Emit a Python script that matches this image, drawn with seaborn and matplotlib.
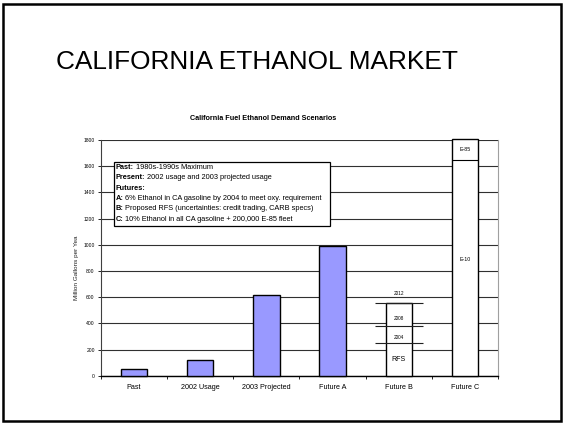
import matplotlib
matplotlib.use("Agg")
import matplotlib.pyplot as plt
import seaborn as sns
import pandas as pd
from matplotlib.patches import Rectangle


categories = ["Past", "2002 Usage", "2003 Projected", "Future A", "Future B", "Future C"]
demand = [50, 118, 615, 988, 553, 1810]

rfs_years = ["2004", "2008", "2012"]
rfs_levels = [247, 377, 553]
e10_level = 1645

legend_heads = ["Past:", "Present:", "Futures:", "A:", "B:", "C:"]
legend_texts = [
    " 1980s-1990s Maximum",
    " 2002 usage and 2003 projected usage",
    "",
    " 6% Ethanol in CA gasoline by 2004 to meet oxy. requirement",
    " Proposed RFS (uncertainties: credit trading, CARB specs)",
    " 10% Ethanol in all CA gasoline + 200,000 E-85 fleet",
]

sns.set_style("white")
plt.rcParams["font.family"] = ["Liberation Sans", "DejaVu Sans"]
plt.rcParams["text.color"] = "black"
plt.rcParams["xtick.color"] = "black"
plt.rcParams["ytick.color"] = "black"

W, H = 563, 424


def fx(x, y):
    # figure pixel -> figure fraction
    return x / W, 1 - y / H


fig = plt.figure(figsize=(W / 100, H / 100), dpi=100)
fig.patch.set_facecolor("white")

# slide frame
fig.patches.append(Rectangle((3 / W, 3 / H), 558 / W, 417 / H, transform=fig.transFigure,
                             fill=False, edgecolor="black", linewidth=1.8))

fig.text(*fx(257, 62), "CALIFORNIA ETHANOL MARKET", fontsize=18.9, ha="center", va="center")
fig.text(*fx(263, 118), "California Fuel Ethanol Demand Scenarios", fontsize=5.2,
         fontweight="bold", ha="center", va="center")

left, bottom = fx(101, 375.7)
ax = fig.add_axes([left, bottom, (498 - 101) / W, (375.7 - 140) / H])

df = pd.DataFrame({"scenario": categories, "demand": demand})
colors = {c: "#9999FF" for c in categories}
colors["Future B"] = "white"
colors["Future C"] = "white"

sns.barplot(data=df, x="scenario", y="demand", hue="scenario", palette=colors,
            legend=False, width=0.4, edgecolor="black", linewidth=1.0, saturation=1,
            ax=ax, zorder=3)
for p in ax.patches:
    p.set_clip_on(False)

ax.set_ylim(0, 1800)
ax.set_xlim(-0.5, len(categories) - 0.5)
ax.set_yticks(range(0, 1801, 200))
ax.yaxis.grid(True, color="#303030", linewidth=0.8, zorder=0)
ax.set_axisbelow(True)
ax.tick_params(axis="y", labelsize=3.6, length=2.5, width=0.6, pad=2, left=True)
ax.tick_params(axis="x", labelsize=5.2, length=0, pad=6)
ax.set_xticks([i - 0.5 for i in range(len(categories) + 1)], minor=True)
ax.tick_params(axis="x", which="minor", length=2.5, width=0.6, bottom=True, direction="out")
ax.set_xlabel("")
ax.set_ylabel("")
ax.spines["top"].set_visible(False)
ax.spines["left"].set_color("#404040")
ax.spines["bottom"].set_color("black")
ax.spines["bottom"].set_linewidth(1.0)
ax.spines["right"].set_color("#a0a0a0")

fig.text(*fx(77, 268), "Million Gallons per Yea", rotation=90, fontsize=4.6,
         ha="center", va="center", color="#222222")

# Future B: RFS steps
ib = categories.index("Future B")
for yr, lv, off in zip(rfs_years, rfs_levels, [2.5, 4, 5]):
    ax.hlines(lv, ib - 0.36, ib + 0.36, color="#202020", linewidth=0.8, zorder=4)
    ax.annotate(yr, (ib, lv), xytext=(0, off), textcoords="offset points",
                ha="center", va="bottom", fontsize=3.4, zorder=5)
ax.text(ib, rfs_levels[0] / 2, "RFS", ha="center", va="center", fontsize=5, zorder=5)

# Future C: E-10 / E-85 split
ic = categories.index("Future C")
ax.hlines(e10_level, ic - 0.2, ic + 0.2, color="black", linewidth=0.8, zorder=4)
ax.text(ic, e10_level * 0.54, "E-10", ha="center", va="center", fontsize=3.8, zorder=5)
ax.text(ic, (e10_level + demand[ic]) / 2, "E-85", ha="center", va="center", fontsize=3.8, zorder=5)

# legend box on its own overlay axes
lax = fig.add_axes([0, 0, 1, 1], zorder=5)
lax.set_axis_off()
lax.set_xlim(0, 1)
lax.set_ylim(0, 1)
bx0, by0 = fx(114, 226)
lax.add_patch(Rectangle((bx0, by0), (330 - 114) / W, (226 - 162) / H,
                        facecolor="white", edgecolor="black", linewidth=0.9))
for i, (head, body) in enumerate(zip(legend_heads, legend_texts)):
    t = lax.text(*fx(115.5, 167.7 + i * 10.3), head, fontsize=5.3, fontweight="bold",
                 ha="left", va="center")
    if body:
        lax.annotate(body, xy=(1, 0.5), xycoords=t, ha="left", va="center",
                     fontsize=5.3, annotation_clip=False)

fig.savefig("out.png", dpi=100)
